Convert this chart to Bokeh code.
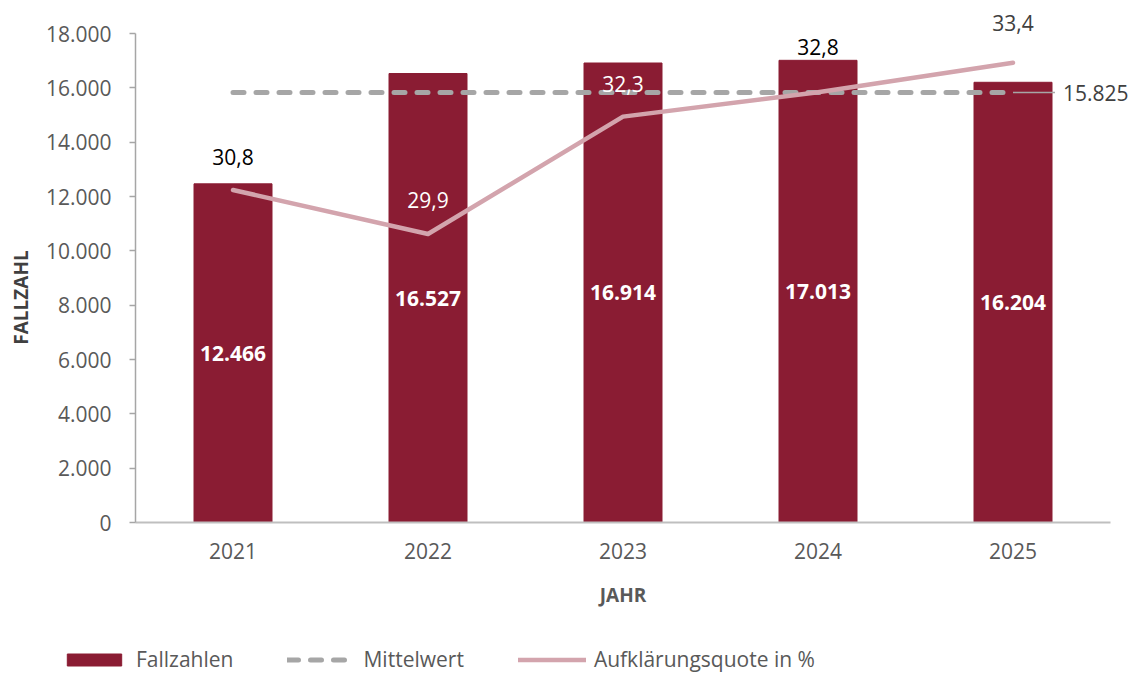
import math
from bokeh.plotting import figure
from bokeh.models import (ColumnDataSource, Range1d, Legend, LegendItem,
                          Label, FixedTicker, CustomJSTickFormatter)
from bokeh.core.properties import value
from bokeh.embed import file_html
from bokeh.resources import INLINE

# ---- data ----
years = ["2021", "2022", "2023", "2024", "2025"]
fallzahlen = [12466, 16527, 16914, 17013, 16204]
quote = [30.8, 29.9, 32.3, 32.8, 33.4]
mittelwert = 15825
y_ticks = [0, 2000, 4000, 6000, 8000, 10000, 12000, 14000, 16000, 18000]

# ---- styles ----
FONT = "Open Sans"
BAR = "#8A1C33"
PINK = "#D3A4AD"
GREY = "#A6A6A6"
quote_label_colors = ["#000000", "#FFFFFF", "#FFFFFF", "#000000", "#404040"]
quote_label_dy = [-33, -34, -33, -45, -40]

# ---- layout (pixels) ----
W, H = 1137, 673
AX_LEFT, AX_BOTTOM, AX_TOP = 135, 522, 33   # where the axes sit on the page
CAT_PX = 195                                  # width of one category
Y_MAX, Q_LO, Q_HI = 18000, 24, 34

def de_int(v):
    return f"{v:,}".replace(",", ".")

def de_dec(v):
    return f"{v:.1f}".replace(".", ",")

xpos = [i + 0.5 for i in range(len(years))]

src = ColumnDataSource(dict(
    x=xpos,
    year=years,
    fall=fallzahlen,
    fall_mid=[v / 2 for v in fallzahlen],
    fall_txt=[de_int(v) for v in fallzahlen],
    mean=[mittelwert] * len(years),
    quote=quote,
    quote_txt=[de_dec(v) for v in quote],
    qcol=quote_label_colors,
    qdy=quote_label_dy,
))

ax_h = AX_BOTTOM - AX_TOP
x_range = Range1d(-AX_LEFT / CAT_PX, (W - AX_LEFT) / CAT_PX)
y_range = Range1d(-(H - AX_BOTTOM) * Y_MAX / ax_h, AX_BOTTOM * Y_MAX / ax_h)
q_range = Range1d(Q_LO - (H - AX_BOTTOM) * (Q_HI - Q_LO) / ax_h,
                  Q_LO + AX_BOTTOM * (Q_HI - Q_LO) / ax_h)

def px_x(px):
    return (px - AX_LEFT) / CAT_PX

def px_y(py):
    return (AX_BOTTOM - py) * Y_MAX / ax_h

p = figure(x_range=x_range, y_range=y_range,
           frame_width=W, frame_height=H, width=W, height=H,
           min_border=0,
           output_backend="svg", toolbar_location=None, tools="")
p.extra_y_ranges = {"q": q_range}
p.outline_line_color = None
p.xgrid.grid_line_color = None
p.ygrid.grid_line_color = None
p.background_fill_color = "white"
p.border_fill_color = "white"

bars = p.vbar(x="x", top="fall", width=0.4, source=src, color=BAR, line_color=BAR)
mean_r = p.line(x="x", y="mean", source=src, line_color=GREY, line_width=5,
                line_dash="11 12", line_cap="round")
q_r = p.line(x="x", y="quote", source=src, y_range_name="q", line_color=PINK,
             line_width=4.5, line_cap="round", line_join="round")

# bar value labels
p.text(x="x", y="fall_mid", text="fall_txt", source=src, text_color="white",
       text_font=value(FONT), text_font_style="bold", text_font_size="21px",
       text_align="center", text_baseline="middle")
# quote labels
p.text(x="x", y="quote", text="quote_txt", source=src, y_range_name="q",
       text_color="qcol", y_offset="qdy",
       text_font=value(FONT), text_font_size="21px",
       text_align="center", text_baseline="middle")

# mean leader line and label
p.ray(x=[xpos[-1]], y=[mittelwert], length=42, length_units="screen", angle=0,
      line_color=GREY, line_width=1.5)
p.add_layout(Label(x=xpos[-1], y=mittelwert, x_offset=50, text=de_int(mittelwert),
                   text_font=FONT, text_font_size="21px", text_color="#404040",
                   text_baseline="middle", text_align="left"))

# axes (fixed at the data origin, the frame fills the whole canvas)
ya = p.yaxis[0]
ya.fixed_location = 0
ya.bounds = (0, Y_MAX)
ya.ticker = FixedTicker(ticks=y_ticks)
ya.formatter = CustomJSTickFormatter(code="return tick.toString().replace(/\\B(?=(\\d{3})+(?!\\d))/g, '.');")
ya.axis_line_color = GREY
ya.axis_line_width = 1.5
ya.major_tick_line_color = GREY
ya.major_tick_line_width = 1.5
ya.major_tick_out = 6
ya.major_tick_in = 0
ya.minor_tick_line_color = None
ya.major_label_text_font = FONT
ya.major_label_text_font_size = "21px"
ya.major_label_text_color = "#595959"
ya.major_label_standoff = 18

xa = p.xaxis[0]
xa.fixed_location = 0
xa.bounds = (0, len(years))
xa.ticker = FixedTicker(ticks=xpos)
xa.major_label_overrides = {x: y for x, y in zip(xpos, years)}
xa.axis_line_color = "#BFBFBF"
xa.axis_line_width = 2
xa.major_tick_line_color = None
xa.minor_tick_line_color = None
xa.major_label_text_font = FONT
xa.major_label_text_font_size = "21px"
xa.major_label_text_color = "#595959"
xa.major_label_standoff = 14

# axis titles
p.add_layout(Label(x=px_x(20), y=px_y(297), text="FALLZAHL", angle=math.pi / 2,
                   text_font=FONT, text_font_size="19px", text_font_style="bold",
                   text_color="#404040", text_align="center", text_baseline="middle"))
p.add_layout(Label(x=len(years) / 2, y=px_y(594), text="JAHR",
                   text_font=FONT, text_font_size="19px", text_font_style="bold",
                   text_color="#595959", text_align="center", text_baseline="middle"))

legend = Legend(items=[
    LegendItem(label="Fallzahlen", renderers=[bars]),
    LegendItem(label="Mittelwert", renderers=[mean_r]),
    LegendItem(label="Aufklärungsquote in %", renderers=[q_r]),
], orientation="horizontal", location=(60, 0), padding=0, margin=0, spacing=54,
   glyph_width=68, glyph_height=15, label_standoff=8,
   label_text_font=FONT, label_text_font_size="21px", label_text_color="#595959",
   border_line_color=None, background_fill_alpha=0)
p.add_layout(legend, "center")

open("out.html", "w").write(file_html(p, INLINE))
